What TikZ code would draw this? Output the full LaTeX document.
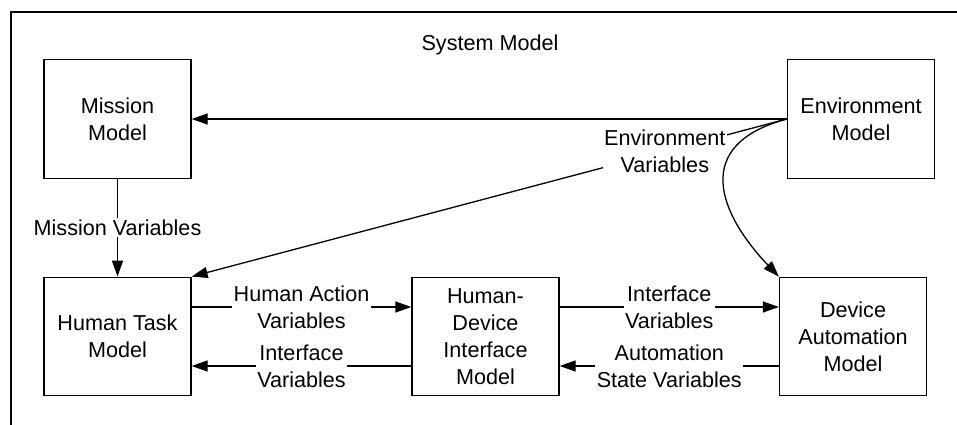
\documentclass[tikz,border=0pt]{standalone}
\usepackage{fontspec}
\setmainfont{Liberation Sans}
\usetikzlibrary{arrows.meta}
\begin{document}
\begin{tikzpicture}[x=1pt,y=-1pt,
  every node/.style={font=\fontsize{21.6}{27}\selectfont},
  box/.style={draw, line width=1.3pt, minimum width=147pt, minimum height=118.5pt, align=center, inner sep=0pt},
  lbl/.style={fill=white, align=center, inner sep=1.5pt},
  conn/.style={line width=1.3pt},
  arr/.style={conn, -{Triangle[length=16pt,width=11pt]}}]
\useasboundingbox (0,0) rectangle (957,425);
\draw[line width=2.2pt] (957,12) -- (11,12) -- (11,425);
\node[box] (mm) at (117.5,119) {Mission\\Model};
\node[box] (em) at (861,119) {Environment\\Model};
\node[box] (ht) at (117.5,336.5) {Human Task\\Model};
\node[box] (hdi) at (485.5,336.5) {Human-\\Device\\Interface\\Model};
\node[box] (dam) at (853,336.5) {Device\\Automation\\Model};
\node (sys) at (490,45) {System Model};
\draw[arr] (em.west) -- (mm.east);
\draw[arr] (mm.south) -- node[lbl]{Mission Variables} (ht.north);
\draw[arr] (em.west) -- node[lbl,pos=0.205]{Environment\\Variables} (ht.north east);
\draw[arr] (em.west) .. controls +(-97,26) and +(-59,-62) .. (dam.north west);
\draw[arr] ([yshift=29.5pt]ht.east) -- node[lbl]{Human Action\\Variables} ([yshift=29.5pt]hdi.west);
\draw[arr] ([yshift=-29.5pt]hdi.west) -- node[lbl]{Interface\\Variables} ([yshift=-29.5pt]ht.east);
\draw[arr] ([yshift=29.5pt]hdi.east) -- node[lbl]{Interface\\Variables} ([yshift=29.5pt]dam.west);
\draw[arr] ([yshift=-29.5pt]dam.west) -- node[lbl]{Automation\\State Variables} ([yshift=-29.5pt]hdi.east);
\end{tikzpicture}
\end{document}
